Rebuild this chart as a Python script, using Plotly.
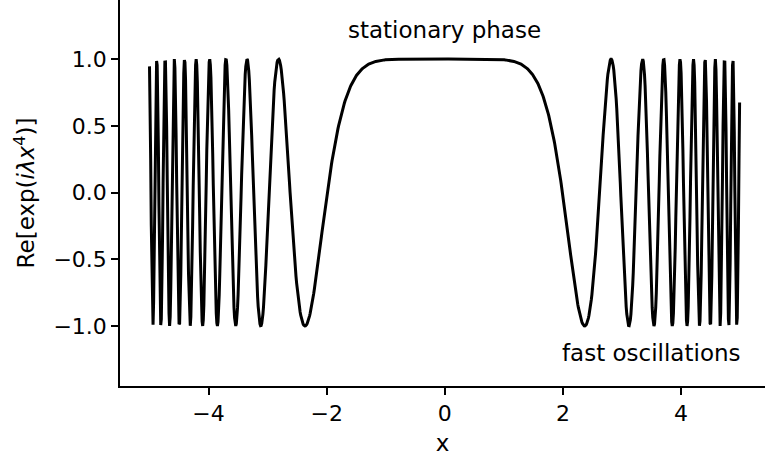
import numpy as np
import plotly.graph_objects as go

# Function parameters: Re[exp(i*lam*x^4)] = cos(lam*x^4)
lam = 0.1
x_start, x_stop, x_step = -5.0, 5.0, 0.01

x = np.arange(x_start, x_stop, x_step)
y = np.cos(lam * x**4)

x_ticks = [-4, -2, 0, 2, 4]
x_tick_labels = ["\u22124", "\u22122", "0", "2", "4"]
y_ticks = [-1.0, -0.5, 0.0, 0.5, 1.0]
y_tick_labels = ["\u22121.0", "\u22120.5", "0.0", "0.5", "1.0"]

annotations_text = ["stationary phase", "fast oscillations"]
annotations_x = [0.0, 2.0]
annotations_y = [1.22, -1.2]

FONT = "DejaVu Sans"
FS_TICK = 22
FS = 23

fig = go.Figure()
fig.add_trace(go.Scatter(x=x, y=y, mode="lines",
                         line=dict(color="black", width=3),
                         showlegend=False, hoverinfo="skip"))

fig.add_annotation(x=annotations_x[0], y=annotations_y[0], text=annotations_text[0],
                   showarrow=False, xanchor="center", yanchor="middle",
                   font=dict(family=FONT, size=FS, color="black"))
fig.add_annotation(x=annotations_x[1], y=annotations_y[1], text=annotations_text[1],
                   showarrow=False, xanchor="left", yanchor="middle", xshift=-3,
                   font=dict(family=FONT, size=FS, color="black"))

axis_common = dict(showgrid=False, zeroline=False, showline=True, linecolor="black",
                   linewidth=1.6, ticks="outside", ticklen=7, tickwidth=1.6,
                   tickcolor="black", mirror=False, automargin=False,
                   tickfont=dict(family=FONT, size=FS_TICK, color="black"))

fig.update_layout(
    width=765, height=461,
    margin=dict(l=120, r=0, t=0, b=75),
    plot_bgcolor="white", paper_bgcolor="white",
    xaxis=dict(range=[-5.4995, 5.42], tickvals=x_ticks, ticktext=x_tick_labels,
               title=dict(text="x", font=dict(family=FONT, size=FS, color="black"), standoff=10),
               **axis_common),
    yaxis=dict(range=[-1.45, 1.443], tickvals=y_ticks, ticktext=y_tick_labels,
               title=dict(text="Re[exp(<i>i\u03bbx</i><sup>4</sup>)]",
                          font=dict(family=FONT, size=FS, color="black"), standoff=12),
               **axis_common),
)

fig.write_html("out.html",
               config={"displayModeBar": False},
               post_script="document.body.style.margin='0px';document.body.style.overflow='hidden';")
